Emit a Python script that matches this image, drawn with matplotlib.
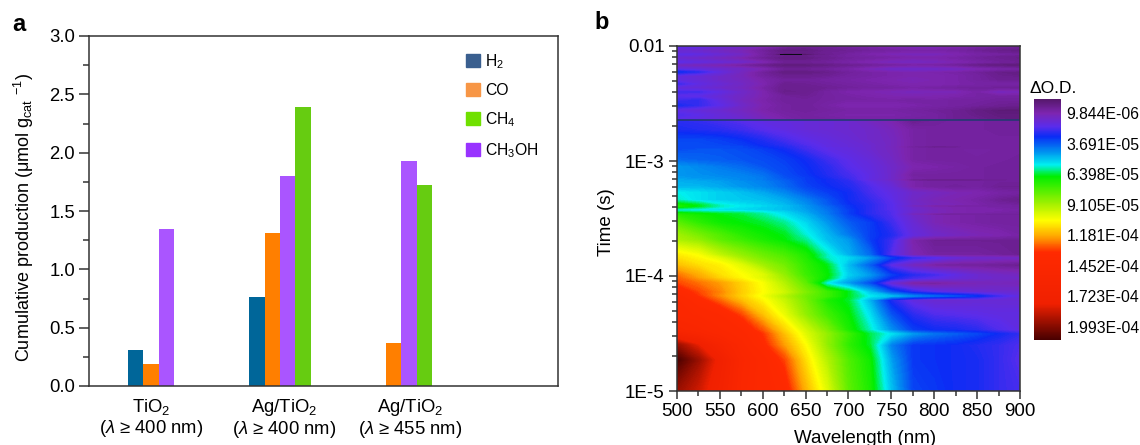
import numpy as np
import matplotlib
matplotlib.use("Agg")
import matplotlib.pyplot as plt
from matplotlib.colors import LinearSegmentedColormap, Normalize
from matplotlib.cm import ScalarMappable
from matplotlib.patches import Patch
from matplotlib.ticker import FixedLocator, FixedFormatter, LogLocator, MultipleLocator, NullFormatter

plt.rcParams["font.family"] = ["Liberation Sans", "DejaVu Sans"]
plt.rcParams["mathtext.fontset"] = "custom"
plt.rcParams["mathtext.rm"] = "Liberation Sans"
plt.rcParams["mathtext.it"] = "Liberation Sans:italic"
plt.rcParams["mathtext.bf"] = "Liberation Sans:bold"
plt.rcParams["mathtext.default"] = "regular"

# panel a
samples = ["TiO$_2$\n($\\mathit{\\lambda}$ ≥ 400 nm)",
           "Ag/TiO$_2$\n($\\mathit{\\lambda}$ ≥ 400 nm)",
           "Ag/TiO$_2$\n($\\mathit{\\lambda}$ ≥ 455 nm)"]
h2 = [0.31, 0.76, 0.0]
co = [0.19, 1.31, 0.37]
ch3oh = [1.35, 1.80, 1.93]
ch4 = [0.0, 2.39, 1.72]

# panel b, delta O.D. in units of 1E-5
wavelength = [500, 525, 550, 575, 600, 625, 650, 675, 700, 725, 750, 775, 800, 825, 850, 875, 900]
log_time = [
    -5.000, -4.730, -4.600, -4.504, -4.470, -4.339, -4.209, -4.174, -4.139, -4.061,
    -4.017, -3.991, -3.904, -3.843, -3.817, -3.687, -3.643, -3.539, -3.475, -3.461,
    -3.448, -3.426, -3.402, -3.391, -3.380, -3.339, -3.278, -3.226, -3.180, -3.165,
    -3.150, -3.122, -3.052, -2.991, -2.904, -2.890, -2.878, -2.866, -2.817, -2.730,
    -2.652, -2.635, -2.600, -2.557, -2.515, -2.470, -2.435, -2.400, -2.365, -2.330,
    -2.296, -2.261, -2.226, -2.200, -2.165, -2.139, -2.104, -2.085, -2.072, -2.060,
    -2.035, -2.000,
]
delta_od = [
    [19.5, 18.5, 17.0, 14.8, 14.2, 13.8, 11.7, 10.0, 8.0, 7.0, 5.0, 3.4, 3.2, 3.0, 2.9, 2.6, 2.4],
    [21.0, 19.5, 17.5, 15.0, 14.2, 13.0, 11.0, 9.3, 7.8, 6.8, 4.6, 3.2, 3.1, 3.0, 2.9, 2.6, 2.2],
    [19.5, 18.0, 16.0, 14.6, 13.5, 12.0, 10.5, 8.8, 7.3, 6.4, 4.2, 3.2, 3.1, 3.0, 2.8, 2.6, 2.3],
    [16.5, 15.5, 14.7, 14.2, 13.2, 11.5, 10.0, 8.8, 7.5, 6.3, 5.4, 4.5, 4.0, 3.7, 3.4, 3.0, 2.6],
    [15.5, 15.0, 14.5, 14.0, 12.8, 11.2, 9.8, 8.5, 7.0, 5.8, 4.4, 3.3, 3.0, 2.9, 2.7, 2.3, 2.0],
    [14.6, 14.4, 14.0, 13.0, 11.5, 10.2, 8.8, 7.6, 6.7, 5.4, 3.6, 2.7, 2.3, 2.2, 2.1, 2.0, 2.0],
    [14.5, 13.6, 12.6, 11.5, 10.6, 9.6, 8.4, 7.0, 6.4, 4.8, 2.8, 1.9, 1.6, 1.6, 1.7, 1.7, 1.7],
    [14.2, 13.2, 12.2, 11.2, 10.3, 9.3, 8.3, 7.5, 6.5, 5.5, 4.9, 4.2, 3.8, 3.5, 3.1, 2.4, 1.9],
    [13.8, 13.0, 12.3, 11.3, 10.5, 9.7, 8.5, 7.5, 6.5, 5.0, 3.6, 2.7, 2.2, 1.9, 1.7, 1.6, 1.6],
    [13.0, 12.5, 12.0, 11.2, 10.4, 9.3, 8.0, 5.5, 4.5, 3.4, 1.6, 0.7, 0.6, 0.9, 1.1, 1.2, 1.1],
    [12.7, 12.0, 11.2, 10.6, 10.0, 9.0, 7.7, 6.6, 5.0, 4.2, 3.0, 2.4, 2.1, 1.8, 1.6, 1.5, 1.4],
    [12.5, 11.8, 11.0, 10.5, 10.0, 8.8, 7.5, 6.7, 5.2, 4.5, 3.3, 2.7, 2.4, 2.0, 1.6, 1.4, 1.3],
    [11.5, 11.0, 10.7, 10.0, 9.0, 8.3, 7.3, 6.5, 4.9, 3.7, 2.0, 1.2, 0.7, 0.6, 0.6, 0.5, 0.4],
    [11.0, 10.6, 10.0, 9.1, 8.4, 7.9, 7.1, 5.8, 5.3, 4.5, 3.3, 2.5, 2.2, 1.7, 1.5, 1.4, 1.3],
    [10.8, 10.4, 9.5, 8.8, 8.2, 7.7, 7.0, 5.8, 4.8, 3.9, 2.2, 1.1, 0.7, 0.7, 0.7, 0.6, 0.5],
    [9.2, 8.8, 8.0, 7.5, 7.0, 6.6, 6.0, 5.0, 4.5, 3.3, 2.5, 0.9, 0.5, 0.5, 0.5, 0.5, 0.5],
    [9.0, 8.4, 7.8, 7.2, 6.8, 6.5, 5.7, 4.9, 4.1, 3.3, 2.8, 1.9, 1.5, 1.3, 1.1, 1.0, 0.8],
    [8.0, 7.3, 6.8, 6.6, 6.4, 6.0, 5.3, 4.5, 3.7, 3.3, 2.5, 1.7, 1.1, 0.9, 0.8, 0.7, 0.7],
    [7.3, 6.9, 6.6, 6.4, 6.0, 5.5, 4.9, 4.2, 3.4, 2.8, 2.3, 1.5, 1.1, 0.9, 0.8, 0.7, 0.7],
    [7.0, 6.7, 6.5, 6.3, 5.9, 5.4, 4.8, 4.1, 3.3, 2.7, 2.3, 1.0, 0.4, 0.3, 0.5, 0.6, 0.6],
    [6.5, 6.3, 6.1, 6.0, 5.7, 5.3, 4.7, 4.1, 3.3, 2.7, 2.3, 1.5, 1.2, 1.0, 0.9, 0.8, 0.7],
    [5.5, 5.4, 5.3, 5.3, 5.2, 5.0, 4.6, 4.0, 3.3, 2.7, 2.2, 1.6, 1.2, 1.0, 0.9, 0.9, 0.8],
    [6.6, 6.2, 5.7, 5.4, 5.2, 5.0, 4.5, 3.9, 3.2, 2.7, 2.2, 1.5, 1.1, 1.0, 0.9, 0.8, 0.7],
    [7.0, 6.5, 5.8, 5.5, 5.3, 5.0, 4.5, 3.8, 3.2, 2.7, 2.2, 0.8, 0.2, 0.2, 0.7, 0.8, 0.7],
    [6.8, 6.4, 5.7, 5.4, 5.2, 4.9, 4.4, 3.7, 3.1, 2.7, 2.2, 1.5, 1.2, 1.1, 0.9, 0.7, 0.6],
    [5.8, 5.4, 5.2, 5.1, 5.0, 4.7, 4.2, 3.6, 3.0, 2.6, 2.1, 1.4, 1.1, 1.0, 0.8, 0.5, 0.3],
    [5.6, 5.4, 5.2, 5.0, 4.7, 4.3, 3.7, 3.3, 3.0, 2.4, 2.0, 1.5, 1.3, 1.1, 1.0, 0.8, 0.7],
    [4.9, 4.9, 4.7, 4.5, 4.3, 3.9, 3.4, 3.1, 2.8, 2.3, 1.8, 0.9, 0.7, 0.6, 0.7, 0.5, 0.5],
    [4.8, 4.7, 4.6, 4.4, 4.2, 3.8, 3.3, 3.0, 2.7, 2.1, 1.6, 0.9, 0.7, 0.7, 0.7, 0.6, 0.6],
    [4.7, 4.6, 4.5, 4.3, 4.1, 3.7, 3.3, 3.0, 2.6, 1.9, 1.4, 0.3, 0.1, 0.1, 0.2, 0.5, 0.6],
    [4.6, 4.5, 4.4, 4.3, 4.1, 3.6, 3.3, 2.9, 2.5, 2.0, 1.5, 0.8, 0.7, 0.7, 0.7, 0.6, 0.6],
    [4.5, 4.4, 4.3, 4.2, 4.0, 3.5, 3.2, 2.8, 2.4, 2.0, 1.5, 0.7, 0.7, 0.7, 0.7, 0.6, 0.6],
    [4.5, 4.3, 4.1, 3.9, 3.6, 3.4, 3.1, 2.7, 2.2, 1.9, 1.5, 1.0, 0.9, 0.8, 0.7, 0.6, 0.6],
    [3.9, 3.8, 3.7, 3.6, 3.5, 3.3, 3.0, 2.5, 2.1, 1.8, 1.4, 0.8, 0.7, 0.7, 0.7, 0.7, 0.6],
    [3.5, 3.6, 3.6, 3.5, 3.3, 3.0, 2.5, 2.1, 1.9, 1.6, 1.3, 0.8, 0.7, 0.7, 0.8, 0.7, 0.7],
    [3.5, 3.5, 3.5, 3.4, 3.2, 2.9, 2.4, 2.1, 1.9, 1.6, 1.3, 0.8, 0.7, 0.7, 0.7, 0.7, 0.7],
    [3.5, 3.5, 3.5, 3.4, 3.1, 2.8, 2.4, 2.0, 1.8, 1.6, 1.2, 0.4, 0.0, 0.2, 0.7, 0.7, 0.7],
    [3.5, 3.5, 3.4, 3.3, 3.0, 2.7, 2.3, 2.0, 1.8, 1.6, 1.3, 0.8, 0.7, 0.7, 0.7, 0.7, 0.7],
    [3.4, 3.4, 3.3, 3.1, 2.8, 2.4, 2.1, 1.9, 1.7, 1.5, 1.3, 0.8, 0.7, 0.7, 0.7, 0.7, 0.7],
    [2.9, 2.8, 2.7, 2.5, 2.2, 2.0, 1.8, 1.7, 1.6, 1.5, 1.2, 0.8, 0.7, 0.7, 0.7, 0.6, 0.6],
    [2.7, 2.6, 2.4, 2.2, 2.0, 1.9, 1.8, 1.7, 1.6, 1.3, 1.0, 0.4, 0.6, 0.7, 0.7, 0.6, 0.6],
    [2.1, 2.0, 1.8, 1.6, 1.2, 0.9, 0.7, 0.7, 0.8, 0.8, 0.8, 0.7, 0.7, 0.5, 0.4, 0.2, 0.1],
    [2.3, 2.1, 1.8, 1.5, 1.1, 0.8, 0.7, 0.8, 0.9, 0.9, 0.9, 0.8, 0.7, 0.5, 0.3, 0.1, 0.1],
    [2.0, 1.8, 1.6, 1.3, 0.9, 0.7, 0.6, 0.7, 0.8, 0.8, 0.8, 0.7, 0.6, 0.5, 0.2, 0.0, 0.0],
    [2.9, 2.6, 2.1, 1.5, 1.0, 0.7, 0.6, 0.8, 1.0, 1.0, 1.0, 0.9, 0.8, 0.7, 0.6, 0.5, 0.4],
    [2.4, 2.6, 1.9, 1.3, 0.9, 0.6, 0.6, 0.7, 0.8, 0.8, 0.8, 0.7, 0.8, 0.7, 0.7, 0.6, 0.6],
    [2.1, 2.0, 1.7, 1.4, 1.0, 0.6, 0.5, 0.7, 0.8, 0.9, 1.0, 1.0, 1.0, 0.9, 0.8, 0.7, 0.7],
    [2.4, 2.4, 2.0, 1.5, 1.0, 0.3, 0.4, 0.7, 0.9, 1.0, 1.1, 1.2, 1.1, 1.1, 0.8, 1.2, 1.1],
    [1.8, 1.7, 1.5, 1.3, 0.8, 0.4, 0.4, 0.5, 0.6, 0.7, 0.7, 0.8, 0.7, 0.6, 0.6, 0.5, 0.5],
    [2.5, 2.0, 1.7, 1.4, 1.0, 0.4, 0.5, 0.6, 0.7, 0.8, 0.9, 1.0, 1.0, 0.9, 0.8, 0.8, 0.8],
    [2.0, 1.8, 1.5, 1.3, 0.9, 0.6, 0.6, 0.7, 0.8, 0.9, 1.0, 1.1, 1.0, 0.9, 0.7, 0.5, 0.5],
    [1.9, 1.7, 1.5, 1.2, 0.7, 0.4, 0.4, 0.5, 0.7, 0.8, 0.9, 1.0, 1.0, 0.9, 0.7, 0.4, 0.3],
    [3.0, 2.6, 1.9, 1.3, 0.6, 0.1, 0.1, 0.3, 0.6, 0.8, 0.9, 1.0, 0.9, 0.8, 0.6, 0.3, 0.2],
    [2.0, 1.8, 1.6, 1.4, 1.0, 0.5, 0.5, 0.6, 0.8, 1.1, 1.4, 1.5, 1.4, 1.3, 1.0, 0.8, 0.7],
    [1.2, 1.1, 0.9, 0.6, 0.3, 0.0, 0.0, 0.2, 0.4, 0.5, 0.6, 0.7, 0.7, 0.5, 0.2, 0.0, -0.1],
    [2.1, 1.9, 1.7, 1.5, 1.0, 0.5, 0.5, 0.6, 0.8, 1.0, 1.2, 1.3, 1.2, 1.0, 0.8, 0.6, 0.5],
    [1.5, 1.4, 1.2, 0.9, 0.5, 0.1, 0.1, 0.4, 0.6, 0.7, 0.8, 0.9, 0.9, 0.8, 0.6, 0.5, 0.3],
    [1.8, 1.7, 1.5, 1.2, 0.7, 0.3, 0.3, 0.5, 0.7, 0.8, 0.9, 1.0, 1.0, 0.9, 0.7, 0.5, 0.4],
    [2.1, 2.0, 1.7, 1.4, 0.7, -1.6, -0.7, 0.3, 0.7, 0.9, 1.1, 1.2, 1.2, 1.0, 0.8, 0.7, 0.6],
    [1.8, 1.7, 1.5, 1.2, 0.7, 0.2, 0.2, 0.5, 0.6, 0.8, 0.9, 1.0, 1.0, 0.9, 0.7, 0.5, 0.4],
    [1.6, 1.5, 1.3, 1.1, 0.6, 0.1, 0.1, 0.4, 0.5, 0.6, 0.7, 0.8, 0.8, 0.7, 0.5, 0.3, 0.2],
    [2.2, 2.1, 1.8, 1.5, 1.1, 0.7, 0.5, 0.6, 0.7, 0.9, 1.1, 1.2, 1.2, 1.0, 0.8, 0.7, 0.6],
]
od_ticks = [0.9844, 3.691, 6.398, 9.105, 11.81, 14.52, 17.23, 19.93]
od_labels = ["9.844E-06", "3.691E-05", "6.398E-05", "9.105E-05",
             "1.181E-04", "1.452E-04", "1.723E-04", "1.993E-04"]

FIG_W, FIG_H = 1140, 445
SPINE = "#333333"


def add_axes_px(fig, left, top, right, bottom):
    return fig.add_axes([left / FIG_W, 1 - bottom / FIG_H,
                         (right - left) / FIG_W, (bottom - top) / FIG_H])


def style_spines(ax):
    for spine in ax.spines.values():
        spine.set_color(SPINE)
        spine.set_linewidth(1.1)


def plot_bars(fig):
    ax = add_axes_px(fig, 89, 36, 558, 386)
    group_start = 2.55 + 7.93 * np.arange(len(samples))
    ax.bar(group_start + 0, h2, width=1, align="edge", color="#006699")
    ax.bar(group_start + 1, co, width=1, align="edge", color="#FF7F00")
    ax.bar(group_start + 2, ch3oh, width=1, align="edge", color="#AA55FF")
    ax.bar(group_start + 3, ch4, width=1, align="edge", color="#66CC11")

    ax.set_xlim(0, 30.65)
    ax.set_ylim(0, 3)
    ax.set_xticks([4.05, 12.75, 21.0])
    ax.set_xticklabels(samples, fontsize=13.3, linespacing=1.05)
    ax.tick_params(axis="x", length=0, pad=8)
    ax.yaxis.set_major_locator(MultipleLocator(0.5))
    ax.yaxis.set_minor_locator(MultipleLocator(0.25))
    ax.tick_params(axis="y", which="major", length=7, width=1.1, color=SPINE, labelsize=13.3, pad=3)
    ax.tick_params(axis="y", which="minor", length=4, width=1.1, color=SPINE)
    ax.set_ylabel("Cumulative production ($\\mu$mol g$_{cat}$ $^{-1}$)", fontsize=13)
    ax.yaxis.set_label_coords(-0.113, 0.48)
    style_spines(ax)

    handles = [Patch(color="#3A5F8F", label="H$_2$"), Patch(color="#F79646", label="CO"),
               Patch(color="#70E000", label="CH$_4$"), Patch(color="#9933FF", label="CH$_3$OH")]
    ax.legend(handles=handles, loc="upper left", bbox_to_anchor=(0.804, 0.954), frameon=False,
              fontsize=11.3, handlelength=0.88, handleheight=0.88, handletextpad=0.35,
              labelspacing=0.78, borderpad=0, borderaxespad=0)
    fig.text(12 / FIG_W, 1 - 31 / FIG_H, "a", fontsize=17, fontweight="bold")


def plot_map(fig):
    ax = add_axes_px(fig, 677, 46, 1020, 391)
    cax = add_axes_px(fig, 1034, 99, 1061, 340)

    # top of the colour bar is the lowest value
    vmin, vmax = -0.26, 21.1
    stops = [(-0.26, "#55186A"), (0.98, "#7D25B0"), (2.17, "#5A2CEB"), (3.06, "#0A2CF5"),
             (4.4, "#0090F0"), (5.58, "#00F0F0"), (6.6, "#00EE00"), (9.0, "#A0F000"),
             (10.5, "#FFFF00"), (12.0, "#FFA000"), (13.3, "#FF2A00"), (17.9, "#F02000"),
             (19.4, "#A01000"), (21.1, "#480000")]
    cmap = LinearSegmentedColormap.from_list(
        "od", [((v - vmin) / (vmax - vmin), c) for v, c in stops], N=512)
    cmap.set_under("#0A0A14")
    cmap.set_over("#480000")

    levels = np.linspace(vmin, vmax, 300)
    norm = Normalize(vmin, vmax)
    time_s = 10.0 ** np.array(log_time)
    ax.contourf(wavelength, time_s, np.array(delta_od), levels=levels, cmap=cmap, norm=norm,
                extend="both", antialiased=False)
    ax.axhline(10.0 ** -2.643, color="#1E3A6E", linewidth=1.1)

    ax.set_yscale("log")
    ax.set_xlim(500, 900)
    ax.set_ylim(1e-5, 1e-2)
    ax.xaxis.set_major_locator(MultipleLocator(50))
    ax.xaxis.set_minor_locator(MultipleLocator(25))
    ax.yaxis.set_major_locator(FixedLocator([1e-5, 1e-4, 1e-3, 1e-2]))
    ax.yaxis.set_major_formatter(FixedFormatter(["1E-5", "1E-4", "1E-3", "0.01"]))
    ax.yaxis.set_minor_locator(LogLocator(base=10, subs=np.arange(2, 10), numticks=10))
    ax.yaxis.set_minor_formatter(NullFormatter())
    ax.tick_params(which="major", length=6, width=1.1, color=SPINE, labelsize=13.5, pad=3)
    ax.tick_params(which="minor", length=3.5, width=1.1, color=SPINE)
    ax.set_xlabel("Wavelength (nm)", fontsize=13.5)
    ax.xaxis.set_label_coords(0.548, -0.113)
    ax.set_ylabel("Time (s)", fontsize=13.5)
    ax.yaxis.set_label_coords(-0.18, 0.49)
    style_spines(ax)

    sm = ScalarMappable(norm=norm, cmap=cmap)
    cbar = fig.colorbar(sm, cax=cax)
    cax.invert_yaxis()
    cbar.set_ticks(od_ticks)
    cbar.set_ticklabels(od_labels)
    cbar.outline.set_visible(False)
    cax.tick_params(length=0, labelsize=11.3, pad=4)
    fig.text(1029 / FIG_W, 1 - 93 / FIG_H, "ΔO.D.", fontsize=12.5)
    fig.text(594 / FIG_W, 1 - 29 / FIG_H, "b", fontsize=17, fontweight="bold")


def main():
    fig = plt.figure(figsize=(FIG_W / 100, FIG_H / 100), dpi=100)
    plot_bars(fig)
    plot_map(fig)
    fig.savefig("out.png", dpi=100)


if __name__ == "__main__":
    main()
